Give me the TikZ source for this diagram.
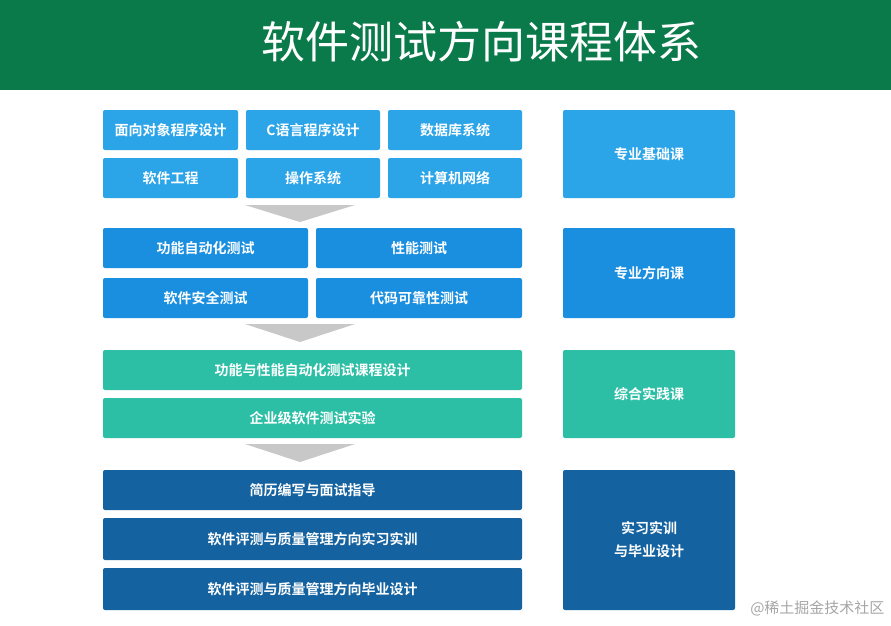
\documentclass[tikz,border=0pt]{standalone}
\usepackage{fontspec}
\newfontfamily\cjk{Noto Sans CJK SC}
\newfontfamily\cjkb{Noto Sans CJK SC Bold}
\definecolor{hdr}{HTML}{0B7A4B}
\definecolor{c1}{HTML}{2BA4E8}
\definecolor{c2}{HTML}{1A8FE0}
\definecolor{c3}{HTML}{2CBFA6}
\definecolor{c4}{HTML}{14629F}
\definecolor{arr}{HTML}{C8C8C8}
\begin{document}
\begin{tikzpicture}[x=1pt,y=-1pt,
 bx/.style={rounded corners=2pt,text=white,font=\cjkb\fontsize{14}{17}\selectfont,align=center,inner sep=0pt}]
\useasboundingbox (0,0) rectangle (891,625);
\fill[white] (0,0) rectangle (891,625);
\fill[hdr] (0,0) rectangle (891,90);
\node[text=white,font=\cjk\fontsize{44}{48}\selectfont] (title) at (481,42) {软件测试方向课程体系};
\newcommand\bb[6]{\fill[#5,rounded corners=2pt] (#1,#2) rectangle (#3,#4); \node[bx] at ({(#1+#3)/2},{(#2+#4)/2}) {#6};}
\bb{103}{110}{238}{150}{c1}{面向对象程序设计}
\bb{246}{110}{380}{150}{c1}{C语言程序设计}
\bb{388}{110}{522}{150}{c1}{数据库系统}
\bb{103}{158}{238}{198}{c1}{软件工程}
\bb{246}{158}{380}{198}{c1}{操作系统}
\bb{388}{158}{522}{198}{c1}{计算机网络}
\bb{563}{110}{735}{198}{c1}{专业基础课}
\fill[arr] (245,205) -- (355,205) -- (300,222) -- cycle;
\bb{103}{228}{308}{268}{c2}{功能自动化测试}
\bb{316}{228}{522}{268}{c2}{性能测试}
\bb{103}{278}{308}{318}{c2}{软件安全测试}
\bb{316}{278}{522}{318}{c2}{代码可靠性测试}
\bb{563}{228}{735}{318}{c2}{专业方向课}
\fill[arr] (245,324) -- (355,324) -- (300,342) -- cycle;
\bb{103}{350}{522}{390}{c3}{功能与性能自动化测试课程设计}
\bb{103}{398}{522}{438}{c3}{企业级软件测试实验}
\bb{563}{350}{735}{438}{c3}{综合实践课}
\fill[arr] (245,444) -- (355,444) -- (300,462) -- cycle;
\bb{103}{470}{522}{510}{c4}{简历编写与面试指导}
\bb{103}{518}{522}{560}{c4}{软件评测与质量管理方向实习实训}
\bb{103}{568}{522}{610}{c4}{软件评测与质量管理方向毕业设计}
\bb{563}{470}{735}{610}{c4}{实习实训\\[6pt]与毕业设计}
\node[text=gray!70,font=\cjk\fontsize{15}{17}\selectfont,anchor=east] (wm) at (888,608) {@稀土掘金技术社区};
\end{tikzpicture}
\end{document}
